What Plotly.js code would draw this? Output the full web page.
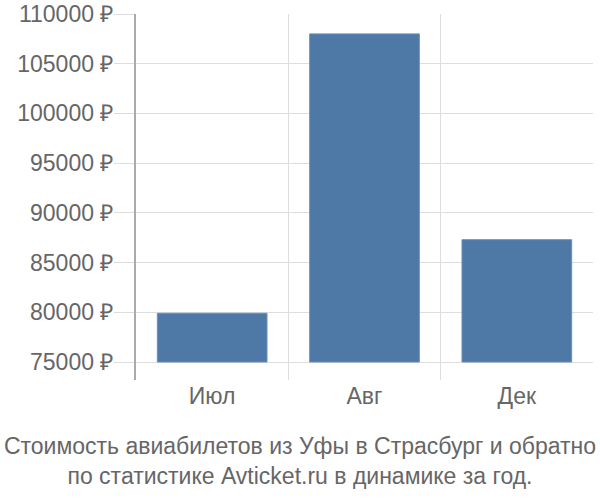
<!DOCTYPE html>
<html>
<head>
<meta charset="utf-8">
<script src="https://cdn.plot.ly/plotly-3.0.1.min.js"></script>
<style>html,body{margin:0;padding:0;background:#fff;}#chart{width:600px;height:500px;}</style>
</head>
<body>
<div id="chart"></div>
<script>
var categories = ["Июл", "Авг", "Дек"];
var prices = [79900, 108000, 87300];
var baseValue = 75000;
var titleLines = ["Стоимость авиабилетов из Уфы в Страсбург и обратно", "по статистике Avticket.ru в динамике за год."];

var trace = {
  type: "bar",
  x: categories,
  y: prices.map(function (p) { return p - baseValue; }),
  base: baseValue,
  marker: {color: "#4e79a7", line: {color: "#6a8fba", width: 1}},
  hoverinfo: "none"
};

var layout = {
  width: 600,
  height: 500,
  margin: {l: 136, r: 7, t: 14, b: 120},
  paper_bgcolor: "#ffffff",
  plot_bgcolor: "#ffffff",
  font: {family: "Liberation Sans, Arial, sans-serif", color: "#666666", size: 23},
  bargap: 0.28,
  showlegend: false,
  title: {
    text: titleLines.join("<br>"),
    font: {size: 23, color: "#666666", family: "Liberation Sans, Arial, sans-serif"},
    xref: "container", x: 0.5, xanchor: "center",
    yref: "container", y: 0.092, yanchor: "top"
  },
  xaxis: {
    type: "category",
    tickson: "boundaries",
    showgrid: true,
    gridcolor: "#dddddd",
    gridwidth: 1,
    ticks: "",
    showline: false,
    zeroline: false,
    automargin: false,
    tickfont: {size: 23, color: "#666666"}
  },
  yaxis: {
    range: [73190, 110000],
    tick0: 75000,
    dtick: 5000,
    tickformat: "d",
    ticksuffix: " ₽",
    showgrid: true,
    gridcolor: "#dddddd",
    gridwidth: 1,
    ticks: "outside",
    ticklen: 20,
    tickcolor: "#dddddd",
    tickwidth: 1,
    ticklabelstandoff: -4,
    showline: true,
    linecolor: "#aaaaaa",
    linewidth: 2,
    zeroline: false,
    automargin: false,
    tickfont: {size: 23, color: "#666666"}
  }
};

Plotly.newPlot("chart", [trace], layout, {displayModeBar: false, staticPlot: true});
</script>
</body>
</html>
